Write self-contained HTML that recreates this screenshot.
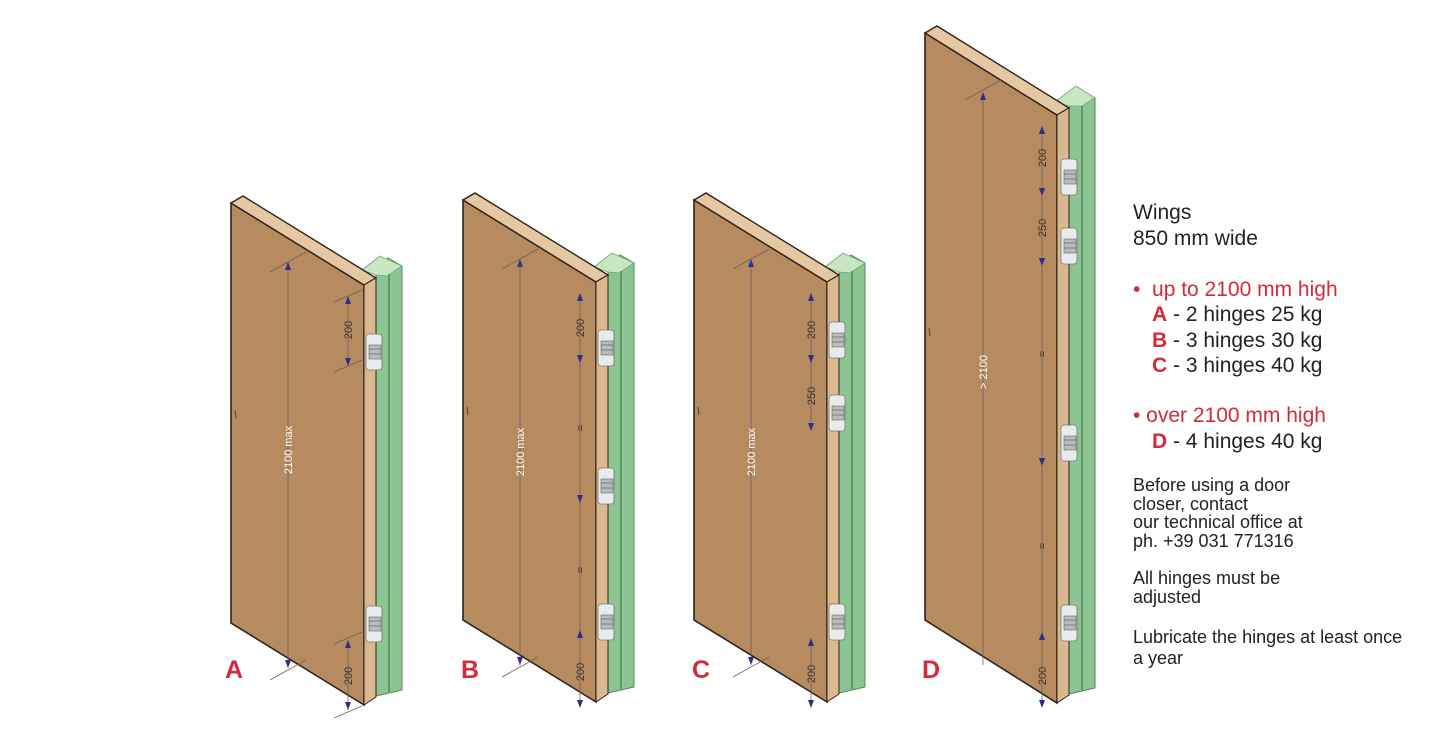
<!DOCTYPE html>
<html><head><meta charset="utf-8"><style>
body{margin:0;background:#fff;width:1446px;height:740px;overflow:hidden;font-family:"Liberation Sans",sans-serif}
svg{position:absolute;left:0;top:0}
.t{position:absolute;left:1133px;color:#222;white-space:nowrap}
.b{font-size:21px}.s{font-size:18px}
.r{color:#d42a3a}
</style></head><body>
<svg width="1446" height="740" viewBox="0 0 1446 740">
<defs>
<g id="hinge">
<rect x="0" y="0" width="16" height="36" rx="3" fill="#e8ecec" stroke="#777" stroke-width="0.8"/>
<rect x="3" y="11" width="12" height="14" fill="#b7bcbc" stroke="#666" stroke-width="0.6"/>
<line x1="3" y1="15" x2="15" y2="15" stroke="#555" stroke-width="0.6"/>
<line x1="3" y1="20" x2="15" y2="20" stroke="#555" stroke-width="0.6"/>
</g>
<g id="doorA">
<polygon points="376,268 388,258 402,266 402,690 376,696" fill="#8cc493" stroke="#4d8a57" stroke-width="1"/>
<polygon points="362,270 380,256 402,266 390,274 388,276 376,275" fill="#c8e6c2" stroke="#6ea877" stroke-width="0.8"/>
<line x1="389" y1="274" x2="389" y2="692" stroke="#4d8a57" stroke-width="1.5"/>
<polygon points="231,203 364,285 364,705 231,623" fill="#b78b60" stroke="#2e2418" stroke-width="1.6"/>
<polygon points="231,203 243,196 376,278 364,285" fill="#e6c7a3" stroke="#2e2418" stroke-width="1.4"/>
<polygon points="364,285 376,278 376,697 364,705" fill="#dbb88f" stroke="#2e2418" stroke-width="1"/>
<path d="M235,410 l1,8" stroke="#444" stroke-width="1"/>
</g>
</defs>

<use href="#doorA"/>
<use href="#hinge" x="366" y="334"/><use href="#hinge" x="366" y="606"/>
<g stroke="#7a5a55" stroke-width="0.8" fill="none">
<line x1="288" y1="262" x2="288" y2="668"/><line x1="270" y1="272" x2="306" y2="252"/><line x1="270" y1="680" x2="306" y2="660"/>
<line x1="348" y1="296" x2="348" y2="366"/><line x1="348" y1="640" x2="348" y2="710"/>
<line x1="334" y1="302" x2="362" y2="290"/><line x1="334" y1="372" x2="362" y2="360"/><line x1="334" y1="644" x2="362" y2="632"/><line x1="334" y1="718" x2="362" y2="706"/>
</g>
<g fill="#2f2f8a"><path d="M285,270 l3,-8 l3,8z"/><path d="M285,660 l3,8 l3,-8z"/><path d="M345,304 l3,-8 l3,8z"/><path d="M345,358 l3,8 l3,-8z"/><path d="M345,648 l3,-8 l3,8z"/><path d="M345,702 l3,8 l3,-8z"/></g>
<g font-family="Liberation Sans" font-size="11" fill="#333" text-anchor="middle">
<text transform="translate(292,450) rotate(-90)" fill="#fff" stroke="none">2100 max</text>
<text transform="translate(352,330) rotate(-90)">200</text>
<text transform="translate(352,676) rotate(-90)">200</text>
</g>

<g transform="translate(232,-3)"><use href="#doorA"/></g>
<use href="#hinge" x="598" y="330"/><use href="#hinge" x="598" y="468"/><use href="#hinge" x="598" y="604"/>
<g stroke="#7a5a55" stroke-width="0.8" fill="none">
<line x1="520" y1="259" x2="520" y2="665"/><line x1="502" y1="269" x2="538" y2="249"/><line x1="502" y1="677" x2="538" y2="657"/>
<line x1="580" y1="293" x2="580" y2="707"/>
</g>
<g fill="#2f2f8a"><path d="M517,267 l3,-8 l3,8z"/><path d="M517,657 l3,8 l3,-8z"/><path d="M577,301 l3,-8 l3,8z"/><path d="M577,355 l3,8 l3,-8z"/><path d="M577,495 l3,8 l3,-8z"/><path d="M577,638 l3,-8 l3,8z"/><path d="M577,700 l3,8 l3,-8z"/></g>
<g font-family="Liberation Sans" font-size="11" fill="#333" text-anchor="middle">
<text transform="translate(524,452) rotate(-90)" fill="#fff">2100 max</text>
<text transform="translate(584,328) rotate(-90)">200</text>
<text transform="translate(584,428) rotate(-90)">=</text>
<text transform="translate(584,570) rotate(-90)">=</text>
<text transform="translate(584,672) rotate(-90)">200</text>
</g>

<g transform="translate(463,-3)"><use href="#doorA"/></g>
<use href="#hinge" x="829" y="322"/><use href="#hinge" x="829" y="395"/><use href="#hinge" x="829" y="604"/>
<g stroke="#7a5a55" stroke-width="0.8" fill="none">
<line x1="751" y1="259" x2="751" y2="665"/><line x1="733" y1="269" x2="769" y2="249"/><line x1="733" y1="677" x2="769" y2="657"/>
<line x1="811" y1="293" x2="811" y2="430"/><line x1="811" y1="638" x2="811" y2="707"/>
</g>
<g fill="#2f2f8a"><path d="M748,267 l3,-8 l3,8z"/><path d="M748,657 l3,8 l3,-8z"/><path d="M808,301 l3,-8 l3,8z"/><path d="M808,355 l3,8 l3,-8z"/><path d="M808,423 l3,8 l3,-8z"/><path d="M808,646 l3,-8 l3,8z"/><path d="M808,700 l3,8 l3,-8z"/></g>
<g font-family="Liberation Sans" font-size="11" fill="#333" text-anchor="middle">
<text transform="translate(755,452) rotate(-90)" fill="#fff">2100 max</text>
<text transform="translate(815,330) rotate(-90)">200</text>
<text transform="translate(815,396) rotate(-90)">250</text>
<text transform="translate(815,674) rotate(-90)">200</text>
</g>

<polygon points="1069,100 1081,90 1095,98 1095,688 1069,694" fill="#8cc493" stroke="#4d8a57" stroke-width="1"/>
<polygon points="1055,102 1076,86 1095,98 1082,106 1069,106" fill="#c8e6c2" stroke="#6ea877" stroke-width="0.8"/>
<line x1="1082" y1="106" x2="1082" y2="690" stroke="#4d8a57" stroke-width="1.5"/>
<polygon points="925,33 1057,115 1057,703 925,620" fill="#b78b60" stroke="#2e2418" stroke-width="1.6"/>
<polygon points="925,33 937,26 1069,108 1057,115" fill="#e6c7a3" stroke="#2e2418" stroke-width="1.4"/>
<polygon points="1057,115 1069,108 1069,695 1057,703" fill="#dbb88f" stroke="#2e2418" stroke-width="1"/>
<path d="M929,328 l1,8" stroke="#444"/>
<use href="#hinge" x="1061" y="159"/><use href="#hinge" x="1061" y="228"/><use href="#hinge" x="1061" y="425"/><use href="#hinge" x="1061" y="605"/>
<g stroke="#7a5a55" stroke-width="0.8" fill="none">
<line x1="983" y1="92" x2="983" y2="665"/><line x1="965" y1="100" x2="1001" y2="80"/>
<line x1="1042" y1="126" x2="1042" y2="707"/>
</g>
<g fill="#2f2f8a"><path d="M980,100 l3,-8 l3,8z"/><path d="M1039,134 l3,-8 l3,8z"/><path d="M1039,188 l3,8 l3,-8z"/><path d="M1039,258 l3,8 l3,-8z"/><path d="M1039,458 l3,8 l3,-8z"/><path d="M1039,640 l3,-8 l3,8z"/><path d="M1039,700 l3,8 l3,-8z"/></g>
<g font-family="Liberation Sans" font-size="11" fill="#333" text-anchor="middle">
<text transform="translate(987,372) rotate(-90)" fill="#fff">&gt; 2100</text>
<text transform="translate(1046,158) rotate(-90)">200</text>
<text transform="translate(1046,228) rotate(-90)">250</text>
<text transform="translate(1046,354) rotate(-90)">=</text>
<text transform="translate(1046,546) rotate(-90)">=</text>
<text transform="translate(1046,676) rotate(-90)">200</text>
</g>

<g font-family="Liberation Sans" font-size="25" font-weight="bold" fill="#d42a3a" text-anchor="middle">
<text x="234" y="678">A</text><text x="470" y="678">B</text><text x="701" y="678">C</text><text x="931" y="678">D</text>
</g>
</svg>

<div class="t b" style="top:201px">Wings</div>
<div class="t b" style="top:227px">850 mm wide</div>
<div class="t b r" style="top:278px">•&nbsp; up to 2100 mm high</div>
<div class="t b" style="top:303px;left:1152px"><b class="r">A</b> - 2 hinges 25 kg</div>
<div class="t b" style="top:329px;left:1152px"><b class="r">B</b> - 3 hinges 30 kg</div>
<div class="t b" style="top:354px;left:1152px"><b class="r">C</b> - 3 hinges 40 kg</div>
<div class="t b r" style="top:404px">• over 2100 mm high</div>
<div class="t b" style="top:430px;left:1152px"><b class="r">D</b> - 4 hinges 40 kg</div>
<div class="t s" style="top:476px;line-height:18.5px">Before using a door<br>closer, contact<br>our technical office at<br>ph. +39 031 771316</div>
<div class="t s" style="top:569px;line-height:18.5px">All hinges must be<br>adjusted</div>
<div class="t s" style="top:627px;line-height:21px">Lubricate the hinges at least once<br>a year</div>
</body></html>
